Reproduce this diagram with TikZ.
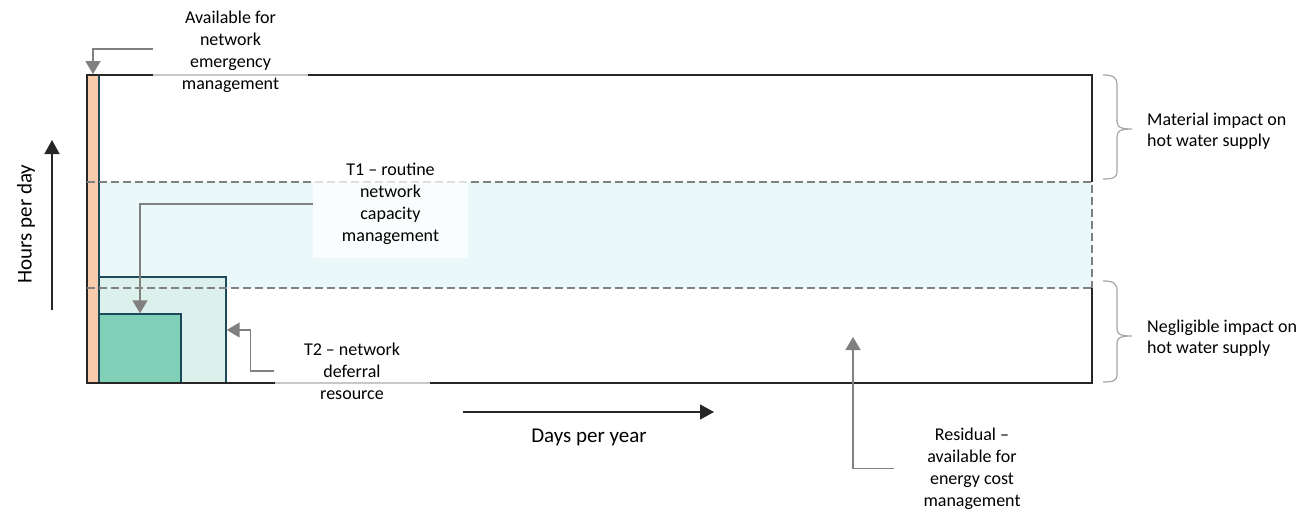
\documentclass[tikz,border=0pt]{standalone}
\usepackage{fontspec}
\setmainfont{Carlito}
\usetikzlibrary{arrows.meta}
\definecolor{peach}{HTML}{F8CBAD}
\definecolor{tealline}{HTML}{1D4A5A}
\definecolor{band}{HTML}{EAF8F9}
\definecolor{lightteal}{HTML}{DDF1EC}
\definecolor{mint}{HTML}{80D0B8}
\definecolor{arrgray}{HTML}{808080}
\definecolor{bracegray}{HTML}{A6A6A6}
\tikzset{
  lbl/.style={align=center, font=\fontsize{18}{22}\selectfont, fill=white, fill opacity=0.75, text opacity=1, inner sep=0pt, minimum width=155pt},
  sidelbl/.style={align=left, anchor=west, font=\fontsize{18}{21}\selectfont, inner sep=0pt},
  axislbl/.style={font=\fontsize{21}{25}\selectfont, inner sep=0pt},
  conn/.style={draw=arrgray, line width=1.5pt, -{Triangle[width=15pt,length=13pt,fill=arrgray]}},
  axisarrow/.style={draw=black!85, line width=1.4pt, -{Triangle[width=15pt,length=14pt]}},
  dashline/.style={draw=arrgray, line width=1.5pt, dash pattern=on 8pt off 4pt},
  bracestyle/.style={draw=bracegray, line width=1.2pt},
}
\begin{document}
\begin{tikzpicture}[x=1pt,y=-1pt]
\useasboundingbox (0,0) rectangle (1310,511);
% cyan band
\fill[band] (99,182) rectangle (1092,288);
% T2 outer and T1 inner boxes
\node[draw=tealline, fill=lightteal, line width=1.4pt, minimum width=127pt, minimum height=106pt, inner sep=0pt] (outer) at (162.5,330) {};
\node[draw=tealline, fill=mint, line width=1.4pt, minimum width=82pt, minimum height=69pt, inner sep=0pt] (inner) at (140,348.5) {};
% bar
\node[draw=tealline, fill=peach, line width=1.8pt, minimum width=12pt, minimum height=308pt, inner sep=0pt] (bar) at (93,229) {};
% main frame
\draw[black!85, line width=1.5pt] (1092,182) -- (1092,75) -- (87,75) -- (87,383) -- (1092,383) -- (1092,288);
\draw[dashline] (87,182) -- (1092,182) -- (1092,288);
\draw[dashline] (87,288) -- (1092,288);
% labels
\node[lbl, minimum height=100pt] (avail) at (230.5,52) {Available for\\network\\emergency\\management};
\node[lbl, minimum height=108pt] (t1) at (390.5,204) {T1 – routine\\network\\capacity\\management};
\node[lbl, minimum height=76pt] (t2) at (352,371) {T2 – network\\deferral\\resource};
\node[lbl, fill=none, minimum width=156pt] (res) at (972,468.5) {Residual –\\available for\\energy cost\\management};
\node[sidelbl] (mat) at (1147,131) {Material impact on\\hot water supply};
\node[sidelbl] (neg) at (1147,338) {Negligible impact on\\hot water supply};
\node[axislbl, rotate=90] (hours) at (26,224) {Hours per day};
\node[axislbl] (days) at (589,437) {Days per year};
% connectors
\coordinate (residtarget) at (853,337);
\draw[conn] ([yshift=3pt]avail.west) -| (bar.north);
\draw[conn] (t1.west) -| (inner.north);
\draw[conn] (t2.west) -- ++(-24,0) |- (outer.east);
\draw[conn] (res.west) -| (residtarget);
% axis arrows
\coordinate (ha) at (52,310);
\coordinate (hb) at (52,140);
\coordinate (da) at (463,412);
\coordinate (db) at (714,412);
\draw[axisarrow] (ha) -- (hb);
\draw[axisarrow] (da) -- (db);
% braces
\draw[bracestyle] (1103,75) .. controls (1113,75) and (1117,77) .. (1117,85) -- (1117,121) .. controls (1117,127) and (1120,129) .. (1132,129) .. controls (1120,129) and (1117,131) .. (1117,137) -- (1117,171) .. controls (1117,178) and (1113,179) .. (1103,179);
\draw[bracestyle] (1103,281) .. controls (1113,281) and (1117,283) .. (1117,291) -- (1117,329) .. controls (1117,334) and (1120,336) .. (1132,336) .. controls (1120,336) and (1117,338) .. (1117,343) -- (1117,374) .. controls (1117,381) and (1113,382) .. (1103,382);
\end{tikzpicture}
\end{document}
